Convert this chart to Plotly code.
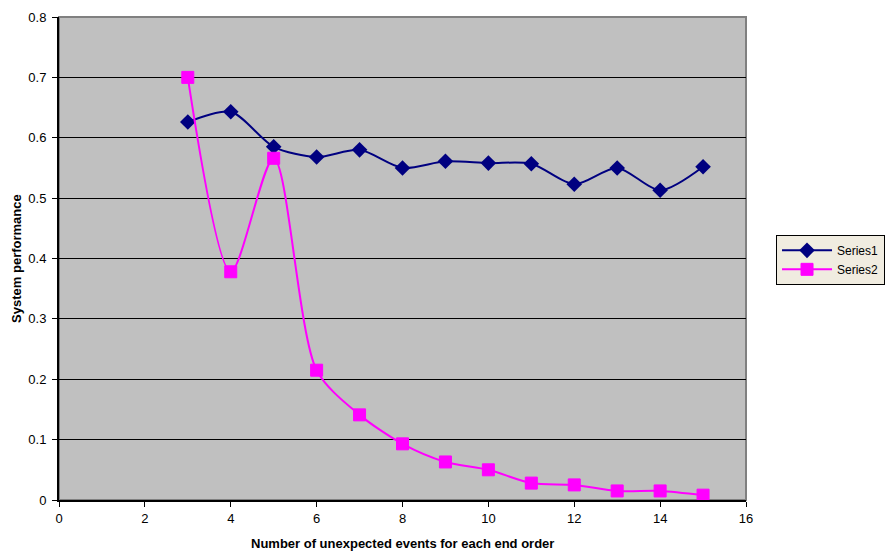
import plotly.graph_objects as go

x_vals = [3, 4, 5, 6, 7, 8, 9, 10, 11, 12, 13, 14, 15]
series1 = [0.626, 0.643, 0.585, 0.568, 0.580, 0.550, 0.561, 0.558, 0.557, 0.523, 0.550, 0.513, 0.552]
series2 = [0.700, 0.378, 0.566, 0.215, 0.141, 0.093, 0.063, 0.050, 0.028, 0.025, 0.015, 0.015, 0.008]
series_names = ["Series1", "Series2"]
x_title = "Number of unexpected events for each end order"
y_title = "System performance"

FONT = "Liberation Sans, Arial, sans-serif"

fig = go.Figure()
fig.add_trace(go.Scatter(
    x=x_vals, y=series1, name=series_names[0], mode="lines+markers",
    line=dict(color="#000080", width=2, shape="spline", smoothing=0.8),
    marker=dict(symbol="diamond", size=12, color="#000080", line=dict(width=0)),
))
fig.add_trace(go.Scatter(
    x=x_vals, y=series2, name=series_names[1], mode="lines+markers",
    line=dict(color="#FF00FF", width=2, shape="spline", smoothing=0.8),
    marker=dict(symbol="square", size=12, color="#FF00FF",
                line=dict(width=1, color="#FF00FF")),
))

fig.update_layout(
    width=885, height=552, autosize=False,
    margin=dict(l=59, r=139, t=17, b=52, autoexpand=False),
    paper_bgcolor="white",
    plot_bgcolor="#C0C0C0",
    font=dict(family=FONT, size=13, color="black"),
    showlegend=True,
    legend=dict(
        x=1.0437, y=0.549, xanchor="left", yanchor="top",
        bgcolor="#F0ECE0", bordercolor="black", borderwidth=1,
        font=dict(family=FONT, size=12, color="black"),
        itemwidth=50, tracegroupgap=0,
    ),
    shapes=[dict(type="rect", xref="paper", yref="paper", x0=0, y0=0, x1=1, y1=1,
                 line=dict(color="#808080", width=2), layer="below")],
    annotations=[
        dict(text="<b>" + x_title + "</b>", xref="paper", yref="paper",
             x=0.5, y=-0.09, xanchor="center", yanchor="middle", showarrow=False,
             font=dict(family=FONT, size=13, color="black")),
        dict(text="<b>" + y_title + "</b>", xref="paper", yref="paper",
             x=-0.062, y=0.5, xanchor="center", yanchor="middle", showarrow=False,
             textangle=-90, font=dict(family=FONT, size=13, color="black")),
    ],
)

fig.update_xaxes(
    range=[0, 16], dtick=2, tick0=0, showgrid=False, zeroline=False,
    showline=True, linecolor="black", linewidth=2,
    ticks="outside", ticklen=5, tickwidth=1, tickcolor="black",
    tickfont=dict(family=FONT, size=13, color="black"),
)
fig.update_yaxes(
    range=[0, 0.8], dtick=0.1, tick0=0, tickformat="~g",
    showgrid=True, gridcolor="black", gridwidth=1, zeroline=False,
    showline=True, linecolor="black", linewidth=2,
    ticks="outside", ticklen=5, tickwidth=1, tickcolor="black",
    ticklabelstandoff=3,
    tickfont=dict(family=FONT, size=13, color="black"),
)

post = """
document.body.style.margin='0';
document.body.style.padding='0';
document.body.style.overflow='hidden';
"""

fig.write_html("out.html", config={"responsive": False, "displayModeBar": False},
               post_script=post)
